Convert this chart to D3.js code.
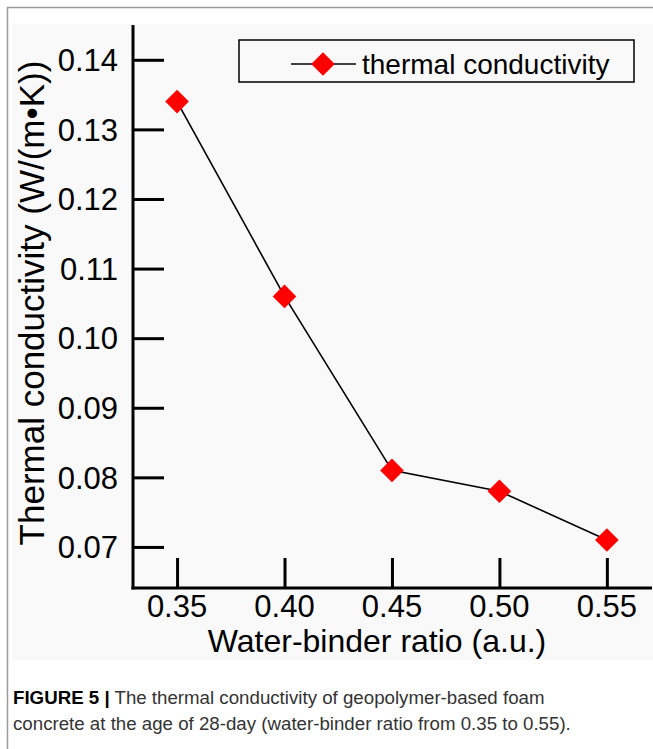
<!DOCTYPE html>
<html>
<head>
<meta charset="utf-8">
<script src="https://cdn.jsdelivr.net/npm/d3@7/dist/d3.min.js"></script>
<style>
  html, body { margin: 0; padding: 0; background: #fff; }
  svg { display: block; }
</style>
</head>
<body>
<script>
const ratios = [0.35, 0.40, 0.45, 0.50, 0.55];
const conductivity = [0.134, 0.106, 0.081, 0.078, 0.071];
const xTicks = [0.35, 0.40, 0.45, 0.50, 0.55];
const yTicks = [0.07, 0.08, 0.09, 0.10, 0.11, 0.12, 0.13, 0.14];
const seriesName = "thermal conductivity";
const xTitle = "Water-binder ratio (a.u.)";
const yTitle = "Thermal conductivity (W/(m\u2022K))";
const captionBold = "FIGURE 5 |";
const captionLine1 = " The thermal conductivity of geopolymer-based foam";
const captionLine2 = "concrete at the age of 28-day (water-binder ratio from 0.35 to 0.55).";

const W = 653, H = 749;
const svg = d3.select("body").append("svg").attr("width", W).attr("height", H);
const font = "'Liberation Sans', Arial, sans-serif";

// outer frame
svg.append("rect").attr("x", 12).attr("y", 24).attr("width", W - 12).attr("height", 636).attr("fill", "#f9f9f9");
svg.append("line").attr("x1", 7.5).attr("x2", 7.5).attr("y1", 7).attr("y2", H).attr("stroke", "#9a9a9a").attr("stroke-width", 1.5);
svg.append("line").attr("x1", 7).attr("x2", W).attr("y1", 7.5).attr("y2", 7.5).attr("stroke", "#9a9a9a").attr("stroke-width", 1.5);

const x = d3.scaleLinear().domain([0.3295, 0.571]).range([133, 652]);
const y = d3.scaleLinear().domain([0.0641, 0.145]).range([588, 25]);

// Y axis
const yAxis = svg.append("g").attr("transform", "translate(133,0)")
  .call(d3.axisRight(y).tickValues(yTicks).tickSize(31).tickFormat(""));
yAxis.select(".domain").attr("stroke", "#000").attr("stroke-width", 3).attr("d", `M0,${y.range()[1]}V${y.range()[0] + 1.5}`);
yAxis.selectAll(".tick line").attr("stroke", "#000").attr("stroke-width", 3);
svg.append("g").selectAll("text").data(yTicks).join("text")
  .attr("x", 118).attr("y", d => y(d)).attr("dy", "0.36em")
  .attr("text-anchor", "end").attr("font-family", font).attr("font-size", 31).attr("fill", "#000")
  .text(d => d3.format(".2f")(d));

// X axis
const xAxis = svg.append("g").attr("transform", "translate(0,588)")
  .call(d3.axisTop(x).tickValues(xTicks).tickSize(30).tickFormat(""));
xAxis.select(".domain").attr("stroke", "#000").attr("stroke-width", 3).attr("d", `M${x.range()[0] - 1.5},0H${x.range()[1]}`);
xAxis.selectAll(".tick line").attr("stroke", "#000").attr("stroke-width", 3);
svg.append("g").selectAll("text").data(xTicks).join("text")
  .attr("x", d => x(d)).attr("y", 617)
  .attr("text-anchor", "middle").attr("font-family", font).attr("font-size", 31).attr("fill", "#000")
  .text(d => d3.format(".2f")(d));

// titles
svg.append("text").attr("x", 377).attr("y", 652).attr("text-anchor", "middle")
  .attr("font-family", font).attr("font-size", 32).attr("fill", "#000").text(xTitle);
svg.append("text").attr("transform", "translate(44,303) rotate(-90)").attr("text-anchor", "middle")
  .attr("font-family", font).attr("font-size", 35).attr("fill", "#000").text(yTitle);

// data line + markers
const data = ratios.map((r, i) => ({ r, v: conductivity[i] }));
svg.append("path").datum(data)
  .attr("fill", "none").attr("stroke", "#000").attr("stroke-width", 1.6)
  .attr("d", d3.line().x(d => x(d.r)).y(d => y(d.v)));
const diamond = d3.symbol().type(d3.symbolSquare).size(280);
svg.append("g").selectAll("path").data(data).join("path")
  .attr("transform", d => `translate(${x(d.r)},${y(d.v)}) rotate(45)`)
  .attr("d", diamond).attr("fill", "#ff0000");

// legend
const lg = svg.append("g");
lg.append("rect").attr("x", 239).attr("y", 40).attr("width", 395).attr("height", 42)
  .attr("fill", "none").attr("stroke", "#000").attr("stroke-width", 1.5);
lg.append("line").attr("x1", 291).attr("x2", 356).attr("y1", 64).attr("y2", 64).attr("stroke", "#000").attr("stroke-width", 1.6);
lg.append("path").attr("transform", "translate(323,64) rotate(45)").attr("d", diamond).attr("fill", "#ff0000");
lg.append("text").attr("x", 362).attr("y", 74).attr("font-family", font).attr("font-size", 28).attr("fill", "#000").text(seriesName);

// caption
const cap = svg.append("text").attr("x", 13).attr("y", 704).attr("font-family", font).attr("font-size", 18.7).attr("fill", "#333");
cap.append("tspan").attr("font-weight", "bold").attr("fill", "#000").text(captionBold);
cap.append("tspan").text(captionLine1);
svg.append("text").attr("x", 13).attr("y", 730).attr("font-family", font).attr("font-size", 18.7).attr("fill", "#333").text(captionLine2);
</script>
</body>
</html>
